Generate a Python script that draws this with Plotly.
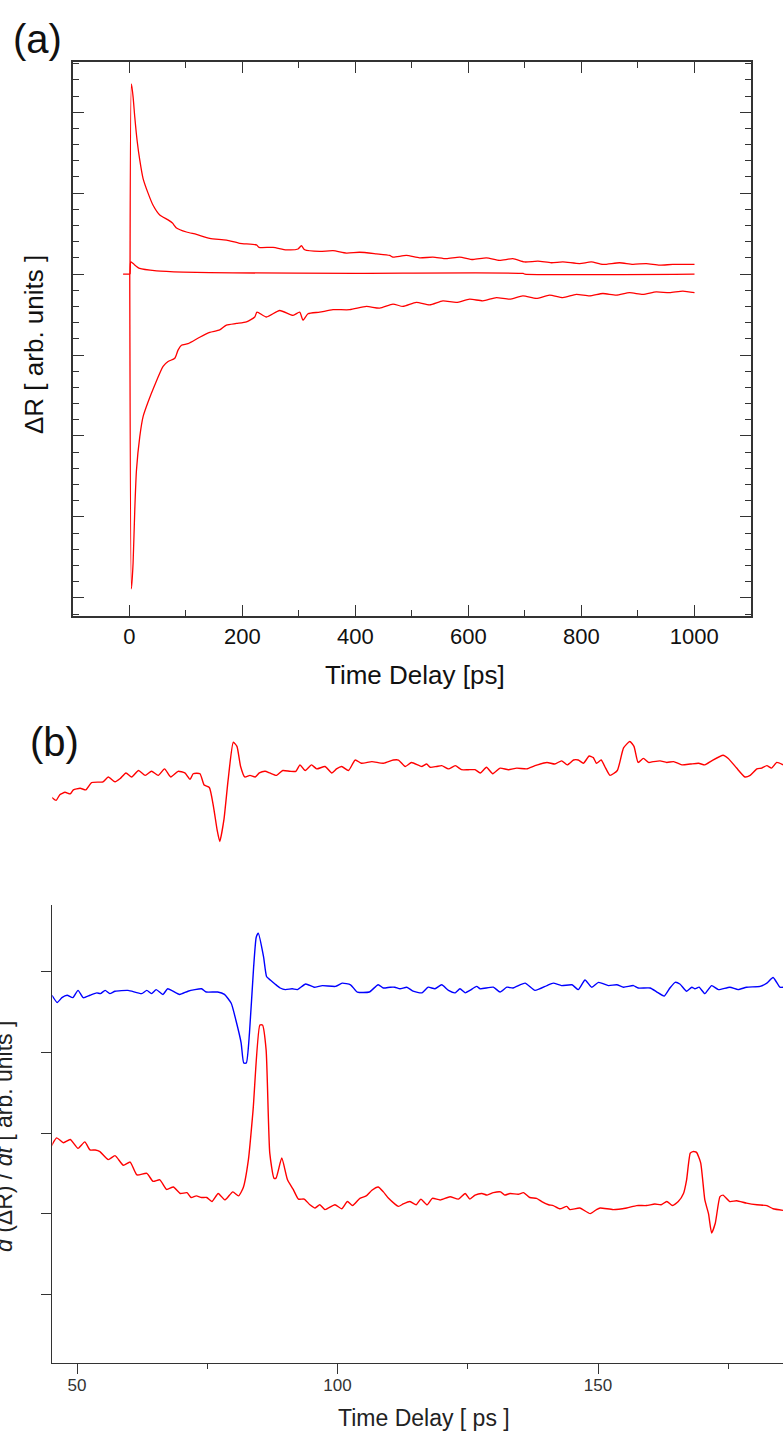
import plotly.graph_objects as go

W, H = 783, 1435
FONT = "Liberation Sans, Arial, sans-serif"

# ---------------- panel (a): transient reflectivity, 0-1000 ps ----------------
a_upper_t = [1, 3.5, 6.4, 9.4, 13.5, 18.2, 24.1, 32.9, 41.8, 53.6, 68.3, 76.1, 83.2, 100.9,
             118.6, 142.1, 171.7, 195.2, 224.8, 229.4, 254.2, 277.9, 298.4, 304.4, 310.3,
             336.8, 360.4, 384.1, 407.6, 437.2, 460.7, 466.5, 490.3, 513.8, 537.3, 561.1,
             584.6, 608.1, 631.9, 655.4, 678.9, 699.6, 723.2, 746.9, 767.4, 797.0, 817.7,
             838.2, 867.8, 891.3, 915.0, 938.6, 962.1, 1000.5]
a_upper_r = [0, 2.35, 2.19, 1.94, 1.65, 1.41, 1.18, 1.00, 0.85, 0.73, 0.67, 0.63, 0.57, 0.52,
             0.49, 0.44, 0.42, 0.38, 0.36, 0.33, 0.33, 0.30, 0.31, 0.35, 0.30,
             0.28, 0.29, 0.26, 0.27, 0.25, 0.23, 0.21, 0.23, 0.20, 0.21, 0.19,
             0.21, 0.18, 0.20, 0.17, 0.19, 0.15, 0.16, 0.14, 0.15, 0.13, 0.15,
             0.12, 0.14, 0.12, 0.13, 0.11, 0.12, 0.12]

a_mid_t = [-11.3, -1.0, 0.5, 2.3, 6.4, 18.0, 48.0, 95.0, 183.0, 400.0, 697.0, 700.0, 1000.5]
a_mid_r = [0, 0, 0, 0.15, 0.13, 0.07, 0.04, 0.025, 0.015, 0.01, 0.008, 0.0, 0.0]

a_lower_t = [0.5, 3.5, 6.4, 9.4, 12.4, 18.2, 24.1, 32.9, 44.8, 59.5, 68.3, 80.2, 86.0, 92.0,
             103.7, 124.4, 142.1, 159.8, 171.7, 189.4, 207.1, 221.8, 225.8, 242.5, 266.0,
             289.6, 301.4, 307.3, 316.1, 336.8, 360.4, 389.9, 419.5, 443.0, 466.5, 484.2,
             507.8, 531.5, 555.0, 578.8, 602.3, 625.8, 649.6, 673.1, 696.6, 720.4, 743.9,
             767.4, 791.2, 814.7, 838.2, 862.0, 885.5, 909.0, 932.7, 956.3, 979.8, 1000.5]
a_lower_r = [0, -3.89, -3.57, -2.91, -2.42, -2.01, -1.76, -1.58, -1.37, -1.14, -1.08, -1.04, -0.94, -0.88,
             -0.86, -0.78, -0.72, -0.69, -0.63, -0.61, -0.59, -0.53, -0.47, -0.53, -0.45,
             -0.51, -0.47, -0.57, -0.49, -0.47, -0.44, -0.44, -0.40, -0.42, -0.37, -0.40,
             -0.35, -0.38, -0.33, -0.35, -0.31, -0.33, -0.29, -0.31, -0.27, -0.30, -0.26,
             -0.29, -0.25, -0.27, -0.24, -0.26, -0.23, -0.25, -0.22, -0.23, -0.21, -0.23]

# ---------------- panel (b): time derivatives, 45-185 ps ----------------
b_top_t = [45.1, 46.0, 46.7, 47.7, 48.7, 49.3, 50.6, 51.7, 52.8, 55.0, 56.0, 57.3, 58.3, 59.4,
           60.5, 61.8, 63.1, 64.3, 65.6, 66.8, 68.0, 69.4, 70.7, 71.7, 72.3, 73.6, 74.4, 75.4,
           76.2, 76.9, 77.4, 78.2, 79.0, 80.0, 80.7, 81.4, 82.2, 83.2, 84.2, 85.0, 86.1, 87.0,
           88.3, 89.5, 90.9, 92.0, 92.8, 93.8, 95.0, 96.0, 97.6, 98.9, 99.8, 100.8, 102.1,
           103.4, 104.6, 106.6, 108.8, 110.7, 111.7, 113.0, 114.2, 116.2, 117.1, 117.8, 119.0,
           120.0, 121.3, 122.6, 123.8, 125.1, 126.4, 127.4, 128.6, 129.8, 131.2, 132.8, 134.4,
           136.3, 137.9, 140.2, 141.7, 143.0, 144.1, 145.3, 146.2, 147.2, 148.3, 149.1, 149.7,
           150.6, 151.3, 152.3, 153.7, 154.9, 156.1, 156.9, 157.7, 158.7, 159.7, 160.6, 161.9,
           163.2, 164.5, 166.1, 167.7, 169.3, 170.5, 171.8, 174.0, 175.0, 176.6, 178.2, 179.2,
           180.5, 181.4, 182.4, 183.3, 184.3, 185.5]
b_top_v = [0.78, 0.74, 0.81, 0.84, 0.82, 0.87, 0.89, 0.87, 0.96, 0.97, 1.03, 0.97, 1.01, 1.08,
           1.03, 1.11, 1.05, 1.10, 1.05, 1.13, 1.03, 1.10, 1.08, 1.00, 1.07, 1.07, 0.93, 0.90,
           0.66, 0.37, 0.23, 0.50, 0.99, 1.46, 1.41, 1.16, 1.03, 1.05, 1.03, 1.08, 1.10, 1.08,
           1.05, 1.11, 1.10, 1.10, 1.18, 1.11, 1.18, 1.13, 1.16, 1.08, 1.13, 1.16, 1.11,
           1.24, 1.20, 1.22, 1.20, 1.24, 1.24, 1.16, 1.21, 1.16, 1.19, 1.15, 1.16,
           1.17, 1.13, 1.17, 1.12, 1.12, 1.12, 1.08, 1.15, 1.07, 1.14, 1.12, 1.14,
           1.13, 1.17, 1.21, 1.19, 1.23, 1.18, 1.24, 1.24, 1.20, 1.29, 1.27, 1.20,
           1.24, 1.16, 1.05, 1.11, 1.39, 1.47, 1.41, 1.21, 1.26, 1.21, 1.22, 1.23,
           1.21, 1.22, 1.18, 1.19, 1.20, 1.18, 1.23, 1.30, 1.26, 1.14, 1.03, 1.05,
           1.13, 1.14, 1.17, 1.14, 1.21, 1.18]

b_blue_t = [45.2, 46.2, 47.1, 48.1, 49.2, 50.2, 51.2, 52.5, 53.8, 54.5, 55.4, 56.3, 57.3, 59.8,
            62.4, 63.4, 64.3, 65.2, 66.5, 67.4, 69.7, 71.3, 73.9, 74.8, 77.0, 78.3, 79.6, 80.5,
            81.5, 82.0, 82.5, 83.1, 83.9, 84.4, 84.8, 85.8, 86.4, 87.1, 88.0, 89.0, 90.0, 91.3,
            92.3, 93.9, 95.5, 97.1, 99.6, 100.9, 102.5, 103.8, 106.1, 107.8, 108.8, 110.1,
            111.0, 112.0, 113.3, 114.5, 116.2, 117.4, 118.7, 120.0, 121.3, 122.6, 123.5, 124.5,
            125.4, 126.7, 127.4, 129.9, 131.2, 132.5, 133.7, 136.0, 137.9, 140.2, 141.4, 143.0,
            145.0, 146.2, 147.5, 148.8, 150.1, 152.0, 153.6, 154.9, 156.8, 157.7, 160.0, 161.3,
            162.7, 163.8, 164.8, 165.7, 167.0, 168.0, 168.6, 169.4, 170.5, 171.8, 173.1, 175.3,
            176.9, 178.5, 181.1, 182.4, 183.6, 184.9, 185.5]
b_blue_v = [3.71, 3.62, 3.68, 3.71, 3.68, 3.77, 3.68, 3.71, 3.74, 3.73, 3.77, 3.73, 3.76, 3.77,
            3.73, 3.77, 3.73, 3.78, 3.72, 3.79, 3.72, 3.76, 3.79, 3.75, 3.75, 3.72, 3.61, 3.40,
            3.12, 2.87, 2.87, 3.24, 4.06, 4.43, 4.48, 4.19, 3.94, 3.90, 3.85, 3.80, 3.78, 3.79,
            3.78, 3.85, 3.81, 3.83, 3.82, 3.86, 3.84, 3.75, 3.75, 3.84, 3.80, 3.81,
            3.81, 3.79, 3.81, 3.76, 3.74, 3.81, 3.79, 3.84, 3.77, 3.74, 3.79, 3.74,
            3.77, 3.82, 3.79, 3.81, 3.75, 3.81, 3.80, 3.86, 3.77, 3.83, 3.86, 3.83,
            3.84, 3.78, 3.90, 3.81, 3.87, 3.83, 3.84, 3.81, 3.83, 3.80, 3.80, 3.75,
            3.70, 3.80, 3.87, 3.85, 3.76, 3.81, 3.79, 3.81, 3.73, 3.83, 3.78, 3.81,
            3.78, 3.81, 3.82, 3.86, 3.93, 3.81, 3.81]

b_red_t = [45.1, 46.1, 47.4, 48.7, 50.2, 51.5, 52.5, 53.5, 54.4, 56.0, 57.3, 58.9, 60.2, 61.5,
           63.4, 64.6, 65.9, 67.2, 68.5, 69.8, 71.1, 71.9, 72.9, 73.9, 74.9, 75.9, 77.1, 78.4,
           79.9, 81.0, 81.9, 82.9, 83.8, 85.1, 85.6, 86.3, 87.0, 87.8, 88.2, 89.3, 90.4, 91.5,
           92.5, 93.6, 94.7, 95.7, 96.6, 97.6, 99.5, 100.8, 101.9, 102.9, 104.3, 105.5, 106.6,
           107.8, 108.8, 109.8, 111.7, 112.6, 113.9, 115.1, 116.0, 117.2, 118.2, 119.7, 121.6,
           123.2, 124.5, 125.4, 126.4, 127.7, 128.7, 129.9, 131.3, 132.1, 133.1, 134.7, 135.7,
           136.9, 138.2, 139.2, 140.5, 141.4, 142.7, 144.0, 144.6, 146.5, 148.5, 149.7, 150.4,
           152.9, 155.5, 157.4, 159.3, 160.9, 162.1, 163.2, 164.3, 165.4, 166.4, 167.0, 167.7,
           168.2, 168.9, 169.7, 170.5, 171.2, 171.8, 172.5, 173.4, 174.0, 175.3, 176.6, 178.5,
           180.5, 182.4, 183.6, 185.5]
b_red_v = [1.84, 1.94, 1.88, 1.92, 1.81, 1.89, 1.79, 1.79, 1.77, 1.67, 1.72, 1.60, 1.64, 1.48,
           1.50, 1.40, 1.42, 1.30, 1.33, 1.25, 1.26, 1.20, 1.22, 1.20, 1.20, 1.15, 1.25, 1.17,
           1.27, 1.22, 1.32, 1.67, 2.29, 3.34, 3.34, 3.03, 1.75, 1.44, 1.44, 1.69, 1.42, 1.30,
           1.18, 1.18, 1.11, 1.07, 1.11, 1.05, 1.11, 1.06, 1.15, 1.10, 1.19, 1.22, 1.29,
           1.33, 1.27, 1.19, 1.09, 1.12, 1.15, 1.11, 1.18, 1.11, 1.19, 1.17, 1.21,
           1.18, 1.25, 1.18, 1.23, 1.25, 1.23, 1.26, 1.27, 1.23, 1.25, 1.24, 1.26,
           1.20, 1.19, 1.15, 1.11, 1.10, 1.06, 1.09, 1.05, 1.07, 1.00, 1.05, 1.07,
           1.05, 1.07, 1.10, 1.10, 1.12, 1.11, 1.15, 1.10, 1.15, 1.25, 1.42, 1.75,
           1.77, 1.76, 1.63, 1.17, 1.00, 0.76, 0.88, 1.21, 1.23, 1.15, 1.16, 1.13,
           1.11, 1.10, 1.06, 1.04]

a_xticks = [0, 200, 400, 600, 800, 1000]
b_xticks = [50, 100, 150]

RED = "#ff0000"
BLUE = "#0000ff"
AXC = "#333333"

fig = go.Figure()

for t, r in [(a_upper_t, a_upper_r), (a_mid_t, a_mid_r), (a_lower_t, a_lower_r)]:
    fig.add_trace(go.Scatter(x=t, y=r, mode="lines",
                             line=dict(color=RED, width=1.3, shape="spline", smoothing=0.6),
                             xaxis="x", yaxis="y", showlegend=False))

fig.add_trace(go.Scatter(x=b_top_t, y=b_top_v, mode="lines",
                         line=dict(color=RED, width=1.4, shape="spline", smoothing=0.5),
                         xaxis="x3", yaxis="y3", showlegend=False))
fig.add_trace(go.Scatter(x=b_blue_t, y=b_blue_v, mode="lines",
                         line=dict(color=BLUE, width=1.4, shape="spline", smoothing=0.5),
                         xaxis="x2", yaxis="y2", showlegend=False))
fig.add_trace(go.Scatter(x=b_red_t, y=b_red_v, mode="lines",
                         line=dict(color=RED, width=1.4, shape="spline", smoothing=0.5),
                         xaxis="x2", yaxis="y2", showlegend=False))

def px_x(p):
    return p / W

def px_y(p):
    return 1 - p / H

fig.update_layout(
    width=W, height=H,
    margin=dict(l=0, r=0, t=0, b=0),
    paper_bgcolor="white", plot_bgcolor="white",
    font=dict(family=FONT, color="#111111"),
    xaxis=dict(domain=[px_x(73), px_x(750.7)], anchor="y", range=[-100, 1100],
               tickvals=a_xticks, ticks="inside", ticklen=11, tickwidth=1.3, tickcolor=AXC,
               showline=True, linecolor=AXC, linewidth=1.5, mirror="allticks",
               showgrid=False, zeroline=False, tickfont=dict(size=22, color="#111111"),
               minor=dict(dtick=100, tick0=0, ticks="inside", ticklen=6, tickcolor=AXC,
                          tickwidth=1.3, showgrid=False)),
    yaxis=dict(domain=[px_y(615.7), px_y(62)], anchor="x", range=[-4.22, 2.62],
               dtick=1, tick0=0, ticks="inside", ticklen=11, tickwidth=1.3, tickcolor=AXC,
               showticklabels=False, showline=True, linecolor=AXC, linewidth=1.5,
               mirror="allticks", showgrid=False, zeroline=False,
               minor=dict(dtick=0.2, tick0=0, ticks="inside", ticklen=6, tickcolor=AXC,
                          tickwidth=1.3, showgrid=False)),
    xaxis2=dict(domain=[px_x(52.3), 1.0], anchor="y2", range=[45.26, 185.5],
                tickvals=b_xticks, ticks="outside", ticklen=10, tickwidth=1.2, tickcolor=AXC,
                showline=True, linecolor=AXC, linewidth=1.3, showgrid=False, zeroline=False,
                tickfont=dict(size=17, color="#333333"), ticklabelstandoff=-3,
                minor=dict(tickvals=[75, 125, 175], ticks="outside", ticklen=5,
                           tickcolor=AXC, tickwidth=1.2, showgrid=False)),
    yaxis2=dict(domain=[px_y(1362.7), px_y(905)], anchor="x2", range=[-0.85, 4.83],
                dtick=1, tick0=0, ticks="outside", ticklen=10, tickwidth=1.2, tickcolor=AXC,
                showticklabels=False, showline=True, linecolor=AXC, linewidth=1.3,
                showgrid=False, zeroline=False),
    xaxis3=dict(domain=[px_x(52.3), 1.0], anchor="y3", range=[45.26, 185.5], visible=False),
    yaxis3=dict(domain=[px_y(860), px_y(731)], anchor="x3", range=[0, 1.6], visible=False),
)

annotations = [
    dict(text="(a)", x=px_x(37), y=px_y(39), font=dict(size=40, color="#111111")),
    dict(text="(b)", x=px_x(54), y=px_y(742), font=dict(size=40, color="#111111")),
    dict(text="Time Delay [ps]", x=px_x(415), y=px_y(675), font=dict(size=26, color="#111111")),
    dict(text="\u0394R [ arb. units ]", x=px_x(34), y=px_y(345), textangle=-90,
         font=dict(size=26, color="#111111")),
    dict(text="Time Delay [ ps ]", x=px_x(424), y=px_y(1418), font=dict(size=23, color="#222222")),
    dict(text="<i>d</i> (\u0394R) / <i>dt</i> [ arb. units ]", x=px_x(4), y=px_y(1137),
         textangle=-90, font=dict(size=23, color="#222222")),
]
for a in annotations:
    a.update(xref="paper", yref="paper", xanchor="center", yanchor="middle", showarrow=False)
fig.update_layout(annotations=annotations)

fig.write_html("out.html")
